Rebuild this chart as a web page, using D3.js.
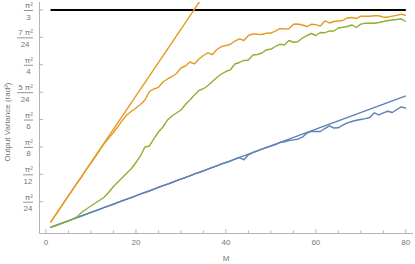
<!DOCTYPE html>
<html>
<head>
<meta charset="utf-8">
<script src="https://cdn.jsdelivr.net/npm/d3@7"></script>
<style>
	html, body { margin: 0; padding: 0; background: #fff; }
	svg { display: block; font-family: "Liberation Sans", Arial, sans-serif; }
</style>
</head>
<body>
<svg id="chart" width="415" height="264"></svg>
<script>
// M runs 1..80 for the simulated curves
var mValues = d3.range(1, 81);

var orangeData = [0.10,0.20,0.30,0.40,0.50,0.60,0.70,0.79,0.90,0.99,
	1.09,1.19,1.29,1.37,1.45,1.54,1.635,1.716,1.769,1.818,
	1.871,1.938,2.066,2.104,2.129,2.209,2.254,2.291,2.336,2.419,
	2.449,2.509,2.482,2.554,2.607,2.647,2.622,2.697,2.739,2.757,
	2.776,2.824,2.857,2.832,2.907,2.932,2.925,2.922,2.941,2.944,
	2.974,3.012,3.005,3.008,3.075,3.080,3.065,3.042,3.075,3.071,
	3.050,3.125,3.095,3.117,3.125,3.132,3.170,3.177,3.162,3.197,
	3.195,3.197,3.203,3.203,3.182,3.182,3.197,3.210,3.227,3.207];

var greenData = [0.025,0.048,0.071,0.096,0.122,0.152,0.189,0.257,0.302,0.347,
	0.392,0.437,0.482,0.557,0.640,0.707,0.775,0.842,0.910,1.000,
	1.098,1.233,1.248,1.360,1.458,1.533,1.638,1.698,1.743,1.788,
	1.871,1.938,2.014,2.081,2.108,2.156,2.216,2.276,2.329,2.366,
	2.392,2.479,2.502,2.532,2.539,2.614,2.622,2.644,2.692,2.700,
	2.742,2.775,2.764,2.832,2.806,2.814,2.869,2.907,2.937,2.907,
	2.952,2.949,2.974,2.974,3.020,3.030,3.042,3.065,3.027,3.077,
	3.090,3.090,3.090,3.102,3.117,3.132,3.140,3.147,3.158,3.117];

var blueData = [0.025,0.050,0.076,0.100,0.124,0.150,0.176,0.200,0.226,0.250,
	0.274,0.300,0.326,0.350,0.373,0.400,0.426,0.450,0.474,0.500,
	0.530,0.550,0.572,0.600,0.628,0.652,0.673,0.700,0.727,0.750,
	0.773,0.800,0.830,0.850,0.872,0.900,0.927,0.950,0.980,1.000,
	1.020,1.050,1.075,1.040,1.115,1.150,1.175,1.200,1.225,1.245,
	1.270,1.300,1.310,1.330,1.340,1.350,1.380,1.440,1.467,1.465,
	1.465,1.510,1.551,1.518,1.521,1.563,1.596,1.616,1.634,1.646,
	1.658,1.676,1.746,1.716,1.746,1.770,1.751,1.796,1.836,1.814];

// straight reference lines, given by their end points
var refM = [1, 80];
var orangeRef = [0.1, 8.0];
var blueRef = [0.025, 2.0];
var limitRef = [Math.PI * Math.PI / 3, Math.PI * Math.PI / 3];

// y ticks in units of pi^2/24
var yTickSteps = [1, 2, 3, 4, 5, 6, 7, 8];
var yTickNumer = ["π²", "π²", "π²", "π²", "5 π²", "π²", "7 π²", "π²"];
var yTickDenom = ["24", "12", "8", "6", "24", "4", "24", "3"];
var xTicks = [0, 20, 40, 60, 80];
var xMinorTicks = [5, 10, 15, 25, 30, 35, 45, 50, 55, 65, 70, 75];

var colors = { blue: "#5e81b5", orange: "#e19c24", green: "#8fb032", limit: "#000" };
var axisColor = "#b3b3b3", textColor = "#777";

var svg = d3.select("#chart");
var x = d3.scaleLinear().domain([-1.49, 81.6]).range([39.3, 413]);
var y = d3.scaleLinear().domain([-0.0586, 3.41]).range([233, 2]);
var unit = Math.PI * Math.PI / 24;

svg.append("clipPath").attr("id", "plotClip")
	.append("rect").attr("x", 39.3).attr("y", 2).attr("width", 380).attr("height", 231);

var plot = svg.append("g").attr("clip-path", "url(#plotClip)");

function drawLine(ms, vs, color, width){
	var line = d3.line().x(function(d){ return x(d[0]); }).y(function(d){ return y(d[1]); });
	plot.append("path")
		.datum(d3.zip(ms, vs))
		.attr("d", line)
		.attr("fill", "none")
		.attr("stroke", color)
		.attr("stroke-width", width)
		.attr("stroke-linejoin", "round");
}

drawLine(refM, limitRef, colors.limit, 2);
drawLine(refM, blueRef, colors.blue, 1.4);
drawLine(mValues, blueData, colors.blue, 1.4);
drawLine(mValues, greenData, colors.green, 1.4);
drawLine(refM, orangeRef, colors.orange, 1.4);
drawLine(mValues, orangeData, colors.orange, 1.4);

// axes
var axes = svg.append("g").attr("stroke", axisColor).attr("stroke-width", 1);
axes.append("line").attr("x1", 39.3).attr("x2", 413).attr("y1", 233.5).attr("y2", 233.5);
axes.append("line").attr("x1", 39.5).attr("x2", 39.5).attr("y1", 2).attr("y2", 233.5);

axes.selectAll(".xmaj").data(xTicks).enter().append("line")
	.attr("x1", function(d){ return x(d); }).attr("x2", function(d){ return x(d); })
	.attr("y1", 233).attr("y2", 229);
axes.selectAll(".xmin").data(xMinorTicks).enter().append("line")
	.attr("x1", function(d){ return x(d); }).attr("x2", function(d){ return x(d); })
	.attr("y1", 233).attr("y2", 230.5);
axes.selectAll(".ymaj").data(yTickSteps).enter().append("line")
	.attr("x1", 39.5).attr("x2", 43)
	.attr("y1", function(d){ return y(d * unit); }).attr("y2", function(d){ return y(d * unit); });

svg.selectAll(".xlab").data(xTicks).enter().append("text")
	.attr("x", function(d){ return x(d); }).attr("y", 245)
	.attr("text-anchor", "middle").attr("font-size", 8).attr("fill", textColor)
	.text(function(d){ return d; });

// fraction labels on the y axis
var fr = svg.selectAll(".yfrac").data(yTickSteps).enter().append("g")
	.attr("transform", function(d){ return "translate(33," + y(d * unit) + ")"; });
fr.each(function(d, i){
	var g = d3.select(this);
	var num = g.append("text").attr("x", 0).attr("y", -2).attr("text-anchor", "end")
		.attr("font-size", 8).attr("fill", textColor).text(yTickNumer[i]);
	var den = g.append("text").attr("y", 9.5).attr("text-anchor", "middle")
		.attr("font-size", 8).attr("fill", textColor).text(yTickDenom[i]);
	var w = Math.max(num.node().getComputedTextLength(), den.node().getComputedTextLength()) + 1;
	den.attr("x", -w / 2);
	g.append("line").attr("x1", -w).attr("x2", 0).attr("y1", 0.5).attr("y2", 0.5)
		.attr("stroke", textColor).attr("stroke-width", 0.8);
});

svg.append("text").attr("x", 226).attr("y", 261).attr("text-anchor", "middle")
	.attr("font-size", 8).attr("fill", textColor).text("M");

svg.append("text").attr("transform", "translate(10,122) rotate(-90)")
	.attr("text-anchor", "middle").attr("font-size", 8).attr("fill", textColor)
	.text("Output Variance (rad²)");
</script>
</body>
</html>
